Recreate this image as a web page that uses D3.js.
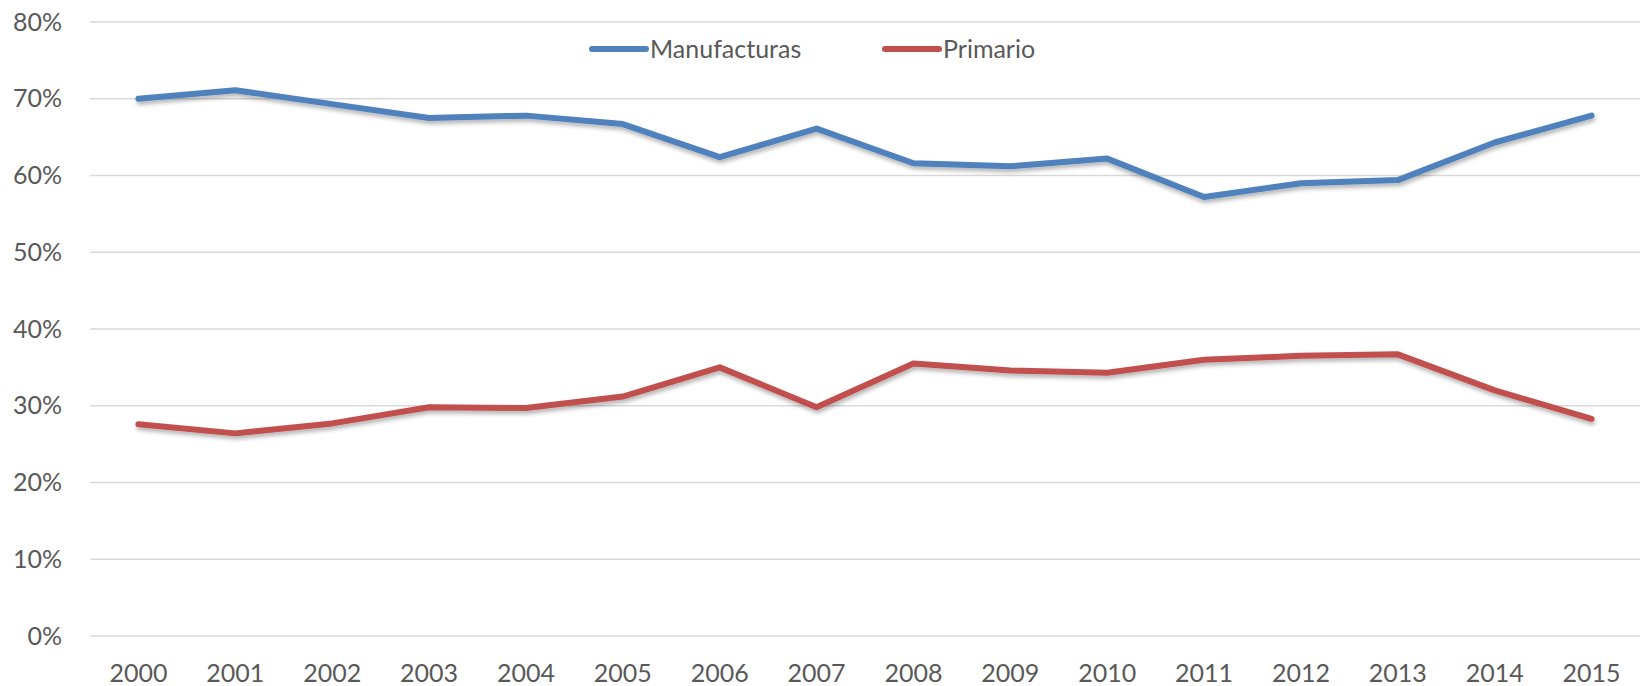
<!DOCTYPE html>
<html lang="es">
<head>
<meta charset="UTF-8">
<title>Manufacturas vs Primario</title>
<script src="https://d3js.org/d3.v7.min.js"></script>
<style>
  body { margin: 0; background: #fff; }
  svg { display: block; }
  .tick text { font-family: Lato, "Noto Sans", sans-serif; font-size: 25px; fill: #595959; }
  .legend text { font-family: Lato, "Noto Sans", sans-serif; font-size: 25px; fill: #595959; }
</style>
</head>
<body>
<svg id="chart" width="1644" height="686"></svg>
<script>
const years = ["2000","2001","2002","2003","2004","2005","2006","2007","2008","2009","2010","2011","2012","2013","2014","2015"];
const manufacturas = [70.0, 71.1, 69.3, 67.5, 67.8, 66.7, 62.4, 66.1, 61.6, 61.2, 62.2, 57.2, 59.0, 59.4, 64.3, 67.8];
const primario = [27.6, 26.4, 27.7, 29.8, 29.7, 31.2, 35.0, 29.8, 35.5, 34.6, 34.3, 36.0, 36.5, 36.7, 32.0, 28.3];
const yTicks = [0, 10, 20, 30, 40, 50, 60, 70, 80];

const series = [
  { name: "Manufacturas", values: manufacturas, color: "#4F81BD" },
  { name: "Primario", values: primario, color: "#C0504D" }
];

const svg = d3.select("#chart");
const plotLeft = 90, plotRight = 1640, plotTop = 22, plotBottom = 636;

const x = d3.scaleBand().domain(years).range([plotLeft, plotRight]);
const y = d3.scaleLinear().domain([0, 80]).range([plotBottom, plotTop]);

// drop shadow like the spreadsheet export
const defs = svg.append("defs");
const f = defs.append("filter").attr("id", "shadow").attr("x", "-5%").attr("y", "-20%").attr("width", "110%").attr("height", "160%");
f.append("feDropShadow").attr("dx", 1).attr("dy", 3).attr("stdDeviation", 2)
  .attr("flood-color", "#000").attr("flood-opacity", 0.3);

// grid
svg.append("g")
  .selectAll("line")
  .data(yTicks)
  .join("line")
  .attr("x1", plotLeft).attr("x2", plotRight)
  .attr("y1", d => y(d)).attr("y2", d => y(d))
  .attr("stroke", "#D9D9D9").attr("stroke-width", 1.5);

// y axis labels
const yAxis = svg.append("g")
  .attr("transform", "translate(62,0)")
  .call(d3.axisLeft(y).tickValues(yTicks).tickFormat(d => d + "%").tickSize(0).tickPadding(0));
yAxis.select(".domain").remove();

// x axis labels
const xAxis = svg.append("g")
  .attr("transform", `translate(0,${plotBottom})`)
  .call(d3.axisBottom(x).tickSize(0).tickPadding(28));
xAxis.select(".domain").remove();

// lines
const line = d3.line()
  .x((d, i) => x(years[i]) + x.bandwidth() / 2)
  .y(d => y(d));

svg.append("g")
  .selectAll("path")
  .data(series)
  .join("path")
  .attr("d", d => line(d.values))
  .attr("fill", "none")
  .attr("stroke", d => d.color)
  .attr("stroke-width", 6)
  .attr("stroke-linejoin", "round")
  .attr("stroke-linecap", "round")
  .attr("filter", "url(#shadow)");

// legend
const legendPos = [592, 885];
const legend = svg.append("g").attr("class", "legend")
  .selectAll("g")
  .data(series)
  .join("g")
  .attr("transform", (d, i) => `translate(${legendPos[i]},49)`);
legend.append("line")
  .attr("x1", 0).attr("x2", 54)
  .attr("stroke", d => d.color)
  .attr("stroke-width", 6)
  .attr("stroke-linecap", "round");
legend.append("text")
  .attr("x", 58).attr("dy", "0.35em")
  .text(d => d.name);
</script>
</body>
</html>
